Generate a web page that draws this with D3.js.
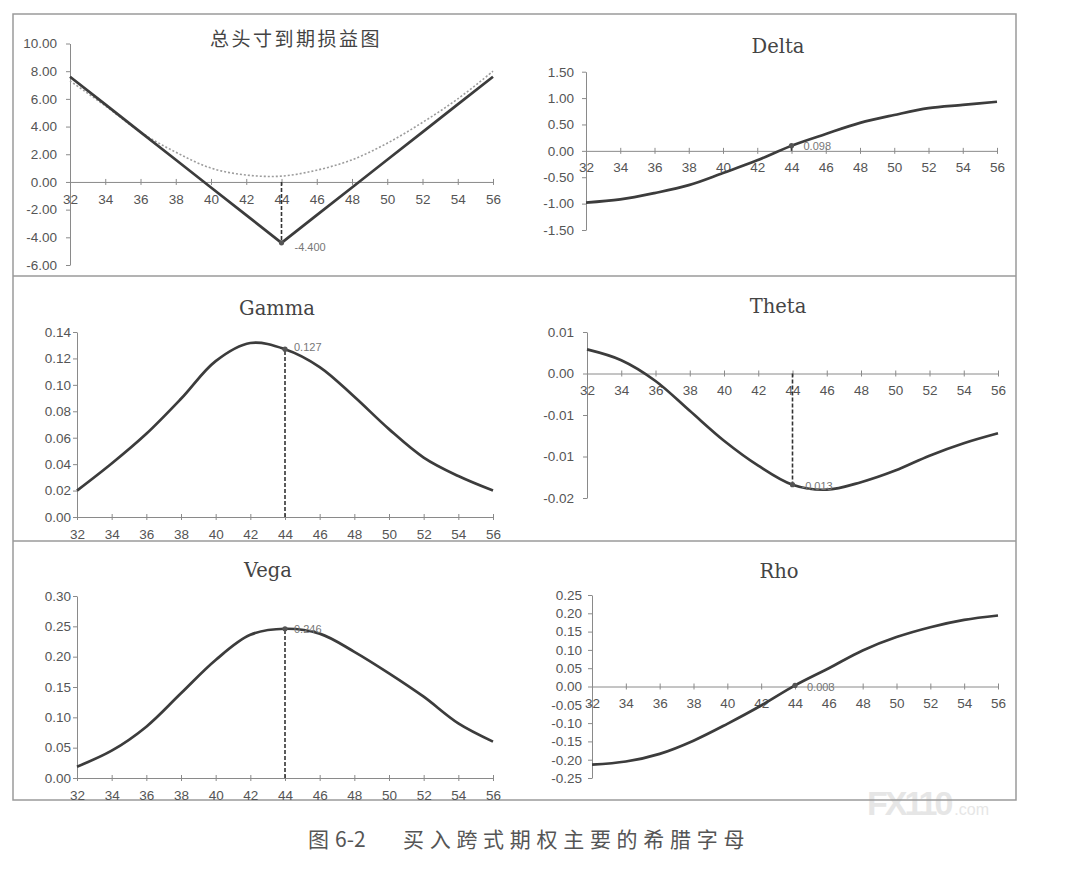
<!DOCTYPE html>
<html>
<head>
<meta charset="utf-8">
<script src="https://cdn.jsdelivr.net/npm/d3@7"></script>
<style>
  body { margin: 0; background: #fff; }
  text { font-family: "Liberation Sans", Arial, sans-serif; }
</style>
</head>
<body>
<svg id="chart" width="1081" height="869"></svg>
<script>
/* Data */
const strikes = [32, 34, 36, 38, 40, 42, 44, 46, 48, 50, 52, 54, 56];
const xTicks = [32, 34, 36, 38, 40, 42, 44, 46, 48, 50, 52, 54, 56];

const payoffExpiry = [7.6, 5.6, 3.6, 1.6, -0.4, -2.4, -4.4, -2.4, -0.4, 1.6, 3.6, 5.6, 7.6];
const payoffNow = [7.3, 5.5, 3.6, 2.15, 1.0, 0.5, 0.42, 0.85, 1.6, 2.8, 4.3, 6.0, 8.0];
const deltaValues = [-0.98, -0.92, -0.80, -0.65, -0.42, -0.18, 0.098, 0.32, 0.53, 0.68, 0.81, 0.87, 0.93];
const gammaValues = [0.0200, 0.0405, 0.0630, 0.0895, 0.1180, 0.1317, 0.127, 0.1135, 0.0910, 0.0665, 0.0450, 0.0310, 0.0200];
const thetaValues = [0.0029, 0.0016, -0.0009, -0.0045, -0.0081, -0.0111, -0.0134, -0.0140, -0.0131, -0.0117, -0.0099, -0.0084, -0.0072];
const vegaValues = [0.0187, 0.0450, 0.0846, 0.1396, 0.1945, 0.2360, 0.246, 0.2380, 0.2080, 0.1725, 0.1340, 0.0900, 0.0600];
const rhoValues = [-0.2135, -0.2050, -0.1840, -0.1480, -0.1020, -0.0520, 0.003, 0.0500, 0.0985, 0.1350, 0.1620, 0.1820, 0.1940];

const pnlTicks = [10, 8, 6, 4, 2, 0, -2, -4, -6];
const pnlTickLabels = ["10.00", "8.00", "6.00", "4.00", "2.00", "0.00", "-2.00", "-4.00", "-6.00"];
const deltaTicks = [1.5, 1, 0.5, 0, -0.5, -1, -1.5];
const deltaTickLabels = ["1.50", "1.00", "0.50", "0.00", "-0.50", "-1.00", "-1.50"];
const gammaTicks = [0.14, 0.12, 0.10, 0.08, 0.06, 0.04, 0.02, 0];
const gammaTickLabels = ["0.14", "0.12", "0.10", "0.08", "0.06", "0.04", "0.02", "0.00"];
const thetaTicks = [0.005, 0, -0.005, -0.01, -0.015];
const thetaTickLabels = ["0.01", "0.00", "-0.01", "-0.01", "-0.02"];
const vegaTicks = [0.30, 0.25, 0.20, 0.15, 0.10, 0.05, 0];
const vegaTickLabels = ["0.30", "0.25", "0.20", "0.15", "0.10", "0.05", "0.00"];
const rhoTicks = [0.25, 0.20, 0.15, 0.10, 0.05, 0, -0.05, -0.10, -0.15, -0.20, -0.25];
const rhoTickLabels = ["0.25", "0.20", "0.15", "0.10", "0.05", "0.00", "-0.05", "-0.10", "-0.15", "-0.20", "-0.25"];

const markStrike = 44;
const markValues = [-4.4, 0.098, 0.127, -0.0134, 0.246, 0.003];
const markLabels = ["-4.400", "0.098", "0.127", "-0.013", "0.246", "0.003"];

const titles = ["总头寸到期损益图", "Delta", "Gamma", "Theta", "Vega", "Rho"];
const captionPrefix = "图";
const captionNumber = "6-2";
const captionText = "买入跨式期权主要的希腊字母";

/* Layout of each panel (pixel boxes) */
const panels = [
  { title: titles[0], cjk: true, tx: 296, ty: 46, left: 70, right: 493, top: 43.5, bottom: 265,
    domain: [-6, 10], ticks: pnlTicks, labels: pnlTickLabels, pad: 9,
    series: [payoffExpiry], dotted: payoffNow, linear: true, mark: 0, lx: 13, ly: 4 },
  { title: titles[1], tx: 778, ty: 53, left: 586, right: 997, top: 71.7, bottom: 230,
    domain: [-1.5, 1.5], ticks: deltaTicks, labels: deltaTickLabels, pad: 8,
    series: [deltaValues], mark: 1, lx: 12, ly: 0 },
  { title: titles[2], tx: 277, ty: 315, left: 77, right: 493, top: 332, bottom: 517,
    domain: [0, 0.14], ticks: gammaTicks, labels: gammaTickLabels, pad: 2,
    series: [gammaValues], mark: 2, lx: 9, ly: -2 },
  { title: titles[3], tx: 778, ty: 313, left: 587, right: 998, top: 332, bottom: 498,
    domain: [-0.015, 0.005], ticks: thetaTicks, labels: thetaTickLabels, pad: 9,
    series: [thetaValues], mark: 3, lx: 9, ly: 1 },
  { title: titles[4], tx: 268, ty: 577, left: 77, right: 493, top: 596, bottom: 778,
    domain: [0, 0.30], ticks: vegaTicks, labels: vegaTickLabels, pad: 2,
    series: [vegaValues], mark: 4, lx: 9, ly: 0 },
  { title: titles[5], tx: 779, ty: 578, left: 592, right: 998, top: 595, bottom: 778,
    domain: [-0.25, 0.25], ticks: rhoTicks, labels: rhoTickLabels, pad: 6,
    series: [rhoValues], mark: 5, lx: 12, ly: 2 }
];

const svg = d3.select("#chart");

// watermark (behind everything), one text so the parts never collide
const wm = svg.append("text").attr("x", 867).attr("y", 815).attr("fill", "#e6e6e6");
wm.append("tspan").attr("font-size", 34).attr("font-weight", "bold")
  .attr("letter-spacing", -3).text("FX110");
wm.append("tspan").attr("font-size", 16).attr("dx", 4).text(".com");

// outer frame and row dividers
const frame = svg.append("g").attr("stroke", "#9a9a9a").attr("stroke-width", 1.5).attr("fill", "none");
frame.append("rect").attr("x", 13).attr("y", 14).attr("width", 1003).attr("height", 786);
frame.append("line").attr("x1", 13).attr("x2", 1016).attr("y1", 276).attr("y2", 276);
frame.append("line").attr("x1", 13).attr("x2", 1016).attr("y1", 541).attr("y2", 541);

panels.forEach((p) => {
  const g = svg.append("g");

  const x = d3.scaleLinear().domain([32, 56]).range([p.left, p.right]);
  const y = d3.scaleLinear().domain(p.domain).range([p.bottom, p.top]);

  // title
  g.append("text")
    .attr("x", p.tx).attr("y", p.ty)
    .attr("text-anchor", "middle")
    .attr("fill", "#444")
    .attr("font-size", p.cjk ? 19 : 19.5)
    .attr("letter-spacing", p.cjk ? 2.5 : 0)
    .style("font-family", p.cjk ? "'Noto Sans CJK SC', sans-serif" : "'DejaVu Serif', serif")
    .text(p.title);

  // y axis
  const yAxis = g.append("g")
    .attr("transform", `translate(${p.left},0)`)
    .call(d3.axisLeft(y)
      .tickValues(p.ticks)
      .tickFormat((d, i) => p.labels[i])
      .tickSizeInner(4).tickSizeOuter(0).tickPadding(p.pad));

  // x axis at zero
  const xAxis = g.append("g")
    .attr("transform", `translate(0,${y(0)})`)
    .call(d3.axisBottom(x)
      .tickValues(xTicks)
      .tickFormat(d3.format("d"))
      .tickSizeInner(3).tickSizeOuter(0).tickPadding(9));
  xAxis.selectAll(".tick line").attr("y1", -3);

  [yAxis, xAxis].forEach((a) => {
    a.select(".domain").attr("stroke", "#8a8a8a");
    a.selectAll(".tick line").attr("stroke", "#8a8a8a");
    a.selectAll("text").attr("fill", "#555").attr("font-size", 13.5)
      .style("font-family", "'Liberation Sans', Arial, sans-serif");
  });

  const line = d3.line()
    .x((d, i) => x(strikes[i]))
    .y((d) => y(d))
    .curve(p.linear ? d3.curveLinear : d3.curveCatmullRom.alpha(0.5));

  if (p.dotted) {
    g.append("path")
      .datum(p.dotted)
      .attr("d", d3.line().x((d, i) => x(strikes[i])).y((d) => y(d)).curve(d3.curveCatmullRom.alpha(0.5)))
      .attr("fill", "none")
      .attr("stroke", "#9c9c9c")
      .attr("stroke-width", 1.6)
      .attr("stroke-dasharray", "2,2");
  }

  p.series.forEach((s) => {
    g.append("path")
      .datum(s)
      .attr("d", line)
      .attr("fill", "none")
      .attr("stroke", "#3c3c3c")
      .attr("stroke-width", 2.7)
      .attr("stroke-linejoin", "round");
  });

  // marker at strike 44 with dashed drop line
  const mv = markValues[p.mark];
  g.append("line")
    .attr("x1", x(markStrike)).attr("x2", x(markStrike))
    .attr("y1", y(Math.max(p.domain[0], 0))).attr("y2", y(mv))
    .attr("stroke", "#333")
    .attr("stroke-width", 1.6)
    .attr("stroke-dasharray", "4,2");
  g.append("circle")
    .attr("cx", x(markStrike)).attr("cy", y(mv)).attr("r", 2.6)
    .attr("fill", "#555");
  g.append("text")
    .attr("x", x(markStrike) + p.lx).attr("y", y(mv) + p.ly)
    .attr("dy", "0.35em")
    .attr("fill", "#777")
    .attr("font-size", 11)
    .text(markLabels[p.mark]);
});

// caption
const cap = svg.append("text")
  .attr("x", 308).attr("y", 847)
  .attr("fill", "#555")
  .attr("font-size", 21)
  .style("font-family", "'Noto Sans CJK SC', sans-serif");
cap.append("tspan").text(captionPrefix);
cap.append("tspan").attr("dx", 6).text(captionNumber);
cap.append("tspan").attr("x", 403).attr("letter-spacing", 5.7).text(captionText);
</script>
</body>
</html>
